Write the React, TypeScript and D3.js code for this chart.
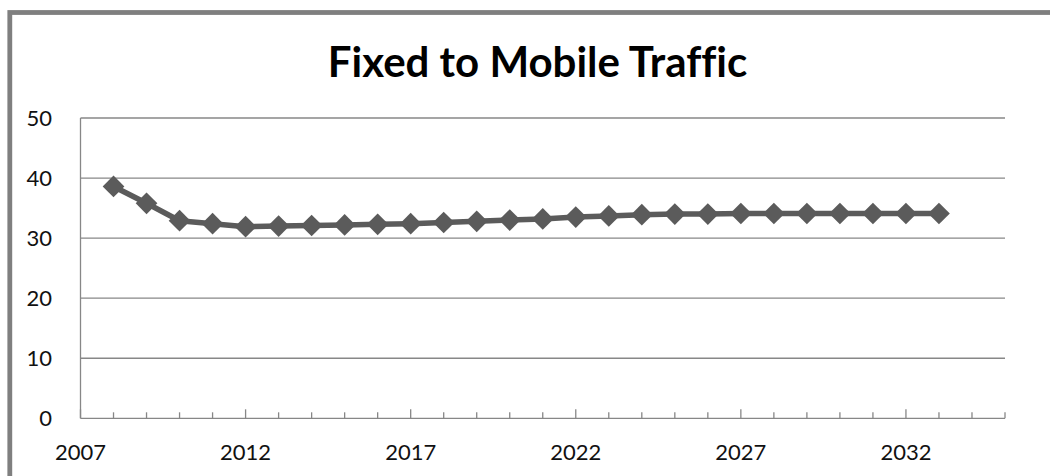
import React from "react";
import * as d3 from "d3";

const years: number[] = [2008, 2009, 2010, 2011, 2012, 2013, 2014, 2015, 2016, 2017, 2018, 2019, 2020, 2021, 2022, 2023, 2024, 2025, 2026, 2027, 2028, 2029, 2030, 2031, 2032, 2033];
const values: number[] = [38.6, 35.8, 32.9, 32.4, 31.9, 32.0, 32.1, 32.2, 32.3, 32.4, 32.6, 32.8, 33.0, 33.2, 33.5, 33.7, 33.9, 34.0, 34.0, 34.1, 34.1, 34.1, 34.1, 34.1, 34.1, 34.1];
const yTicks: number[] = [0, 10, 20, 30, 40, 50];
const xLabels: number[] = [2007, 2012, 2017, 2022, 2027, 2032];
const title = "Fixed to Mobile Traffic";

const W = 1050;
const H = 476;
const plot = { left: 80.5, right: 1005, top: 118, bottom: 418.3 };
const FONT = "Lato, 'Open Sans', sans-serif";

export default function App() {
  const x = d3.scaleLinear().domain([2007, 2035]).range([plot.left, plot.right]);
  const y = d3.scaleLinear().domain([0, 50]).range([plot.bottom, plot.top]);
  const line = d3
    .line<number>()
    .x((_, i) => x(years[i]))
    .y((d) => y(d));
  const diamond = d3.symbol().type(d3.symbolDiamond2).size(300)();
  const allYears = d3.range(2007, 2036);
  const gridColor = "#878787";
  const markColor = "#5b5b5b";

  return (
    <svg
      width={W}
      height={H}
      style={{ position: "absolute", left: 0, top: 0, background: "#fff" }}
    >
      <rect x={9.8} y={12.5} width={1200} height={600} fill="#fff" stroke="#7f7f7f" strokeWidth={4.8} />
      <text
        x={537.5}
        y={76.5}
        textAnchor="middle"
        fontFamily={FONT}
        fontWeight="bold"
        fontSize={42}
        fill="#000"
        style={{ fontVariantLigatures: "none" }}
      >
        {title}
      </text>
      {yTicks.map((t) => (
        <g key={t}>
          {t > 0 && (
            <line x1={plot.left} x2={plot.right} y1={y(t)} y2={y(t)} stroke={gridColor} strokeWidth={1.3} />
          )}
          <text
            x={52}
            y={y(t)}
            dy="0.36em"
            textAnchor="end"
            fontFamily={FONT}
            fontSize={22}
            fill="#111"
          >
            {t}
          </text>
        </g>
      ))}
      <line x1={plot.left} x2={plot.left} y1={plot.top} y2={plot.bottom} stroke={gridColor} strokeWidth={1.3} />
      <line x1={plot.left} x2={plot.right} y1={plot.bottom} y2={plot.bottom} stroke={gridColor} strokeWidth={1.3} />
      {allYears.map((yr) => {
        const major = (yr - 2007) % 5 === 0;
        return (
          <line
            key={yr}
            x1={x(yr)}
            x2={x(yr)}
            y1={plot.bottom}
            y2={plot.bottom - (major ? 9 : 6)}
            stroke={gridColor}
            strokeWidth={1.3}
          />
        );
      })}
      {xLabels.map((l) => (
        <text
          key={l}
          x={x(l)}
          y={460}
          textAnchor="middle"
          fontFamily={FONT}
          fontSize={22}
          fill="#111"
        >
          {l}
        </text>
      ))}
      <path d={line(values) || ""} fill="none" stroke={markColor} strokeWidth={5.5} strokeLinejoin="round" />
      {values.map((v, i) => (
        <path key={i} d={diamond || ""} transform={`translate(${x(years[i])},${y(v)})`} fill={markColor} />
      ))}
    </svg>
  );
}
